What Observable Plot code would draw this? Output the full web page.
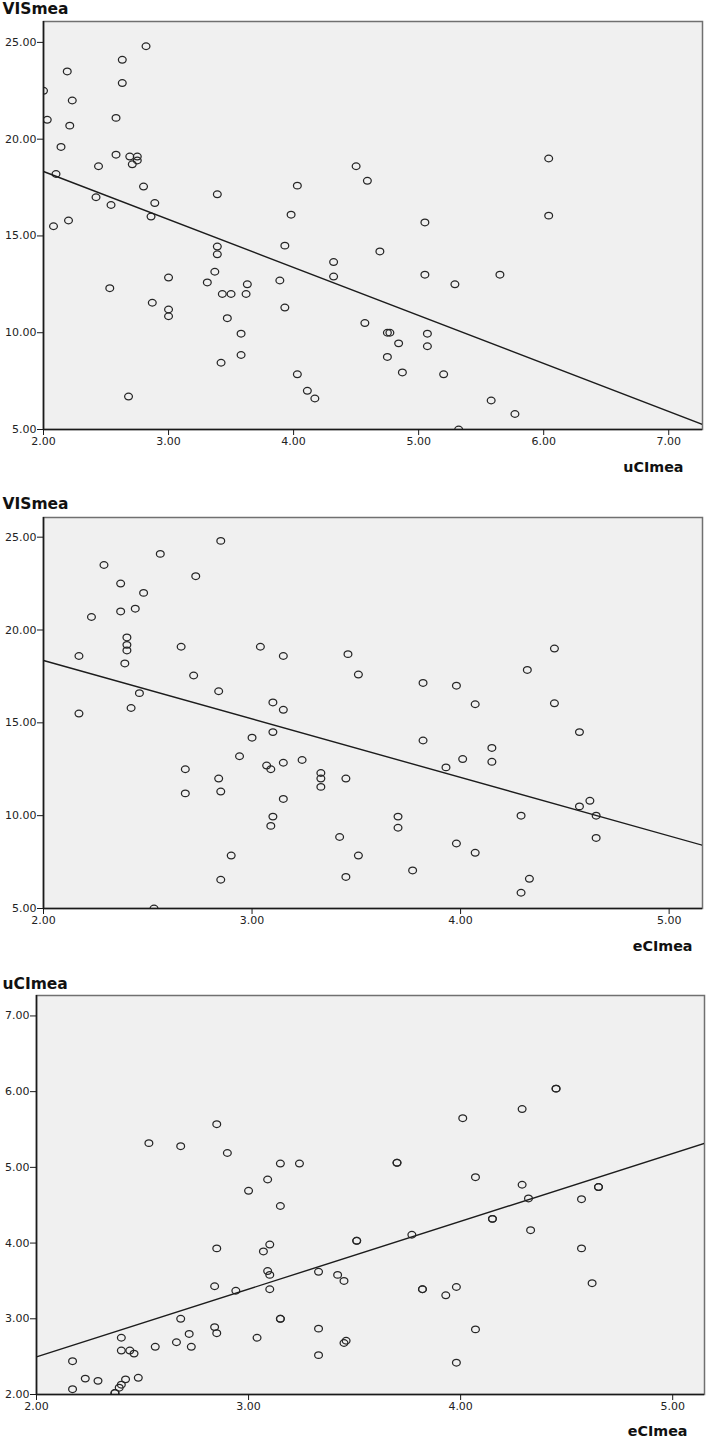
<!DOCTYPE html>
<html>
<head>
<meta charset="utf-8">
<script src="https://cdn.jsdelivr.net/npm/d3@7"></script>
<script src="https://cdn.jsdelivr.net/npm/@observablehq/plot@0.6"></script>
<style>
  html, body { margin: 0; padding: 0; background: #ffffff; }
  #charts svg { display: block; }
</style>
</head>
<body>
<div id="charts"></div>
<script>
// VISmea against uCImea (one point per participant)
const uciA = [2.00, 2.03, 2.19, 2.23, 2.21, 2.14, 2.10, 2.08, 2.20, 2.63, 2.63, 2.82, 2.58, 2.58, 2.69, 2.75, 2.75, 2.71, 2.44,
  2.80, 2.42, 2.54, 2.89, 2.86, 3.39, 4.03, 3.98, 4.50, 4.59, 5.05, 6.04, 6.04, 2.53, 2.87, 3.00, 3.00, 3.00, 2.68,
  3.39, 3.39, 3.37, 3.31, 3.43, 3.50, 3.62, 3.63, 3.47, 3.58, 3.58, 3.42, 3.93, 3.89, 3.93, 4.32, 4.32, 4.03, 4.11,
  4.17, 4.69, 5.05, 5.65, 5.29, 4.57, 4.75, 4.77, 5.07, 4.84, 5.07, 4.75, 4.87, 5.20, 5.58, 5.77, 5.32];
const visA = [22.5, 21.0, 23.5, 22.0, 20.7, 19.6, 18.2, 15.5, 15.8, 24.1, 22.9, 24.8, 21.1, 19.2, 19.1, 19.1, 18.9, 18.7, 18.6,
  17.55, 17.0, 16.6, 16.7, 16.0, 17.15, 17.6, 16.1, 18.6, 17.85, 15.7, 19.0, 16.05, 12.3, 11.55, 12.85, 11.2, 10.85, 6.7,
  14.45, 14.05, 13.15, 12.6, 12.0, 12.0, 12.0, 12.5, 10.75, 9.95, 8.85, 8.45, 14.5, 12.7, 11.3, 13.65, 12.9, 7.85, 7.0,
  6.6, 14.2, 13.0, 13.0, 12.5, 10.5, 10.0, 10.0, 9.95, 9.45, 9.3, 8.75, 7.95, 7.85, 6.5, 5.8, 5.0];

// VISmea against eCImea
const eciB = [2.17, 2.23, 2.29, 2.37, 2.48, 2.37, 2.44, 2.40, 2.40, 2.40, 2.39, 2.56, 2.73, 2.85, 2.66, 2.72, 2.46, 2.84,
  3.04, 3.15, 3.46, 3.51, 3.82, 3.98, 4.32, 4.45, 2.17, 2.42, 3.10, 3.15, 3.00, 3.10, 2.94, 2.68, 2.68, 2.84, 2.85,
  3.07, 3.09, 3.15, 3.24, 3.33, 3.33, 3.33, 3.45, 3.15, 3.10, 3.09, 3.42, 2.90, 2.85, 3.45, 3.51, 2.53, 4.07, 4.45,
  4.57, 3.82, 4.15, 4.15, 4.01, 3.93, 4.57, 4.62, 4.65, 4.29, 4.65, 3.70, 3.70, 3.98, 4.07, 3.77, 4.33, 4.29];
const visB = [18.6, 20.7, 23.5, 22.5, 22.0, 21.0, 21.15, 19.6, 19.2, 18.9, 18.2, 24.1, 22.9, 24.8, 19.1, 17.55, 16.6, 16.7,
  19.1, 18.6, 18.7, 17.6, 17.15, 17.0, 17.85, 19.0, 15.5, 15.8, 16.1, 15.7, 14.2, 14.5, 13.2, 12.5, 11.2, 12.0, 11.3,
  12.7, 12.5, 12.85, 13.0, 12.3, 12.0, 11.55, 12.0, 10.9, 9.95, 9.45, 8.85, 7.85, 6.55, 6.7, 7.85, 5.0, 16.0, 16.05,
  14.5, 14.05, 13.65, 12.9, 13.05, 12.6, 10.5, 10.8, 10.0, 10.0, 8.8, 9.95, 9.35, 8.5, 8.0, 7.05, 6.6, 5.85];

// uCImea against eCImea
const eciC = [2.53, 2.68, 2.85, 2.90, 3.15, 3.24, 3.09, 3.00, 4.45, 4.45, 4.29, 4.01, 3.70, 3.70, 4.07, 4.29, 4.65, 4.65,
  4.32, 4.57, 3.15, 2.85, 3.10, 3.07, 3.09, 3.10, 3.10, 2.84, 2.94, 3.33, 3.42, 3.45, 3.51, 3.51, 2.68, 3.15, 3.15,
  2.84, 2.85, 2.72, 2.66, 2.73, 2.56, 3.04, 3.33, 3.33, 3.45, 3.46, 2.40, 2.40, 2.44, 2.46, 2.17, 2.17, 2.23, 2.29,
  2.42, 2.48, 2.40, 2.39, 2.37, 2.37, 3.77, 4.15, 4.15, 4.33, 4.57, 4.62, 3.82, 3.82, 3.98, 3.93, 4.07, 3.98];
const uciC = [5.32, 5.28, 5.57, 5.19, 5.05, 5.05, 4.84, 4.69, 6.04, 6.04, 5.77, 5.65, 5.06, 5.06, 4.87, 4.77, 4.74, 4.74,
  4.59, 4.58, 4.49, 3.93, 3.98, 3.89, 3.63, 3.58, 3.39, 3.43, 3.37, 3.62, 3.58, 3.50, 4.03, 4.03, 3.00, 3.00, 3.00,
  2.89, 2.81, 2.80, 2.69, 2.63, 2.63, 2.75, 2.87, 2.52, 2.68, 2.71, 2.75, 2.58, 2.58, 2.54, 2.44, 2.07, 2.21, 2.18,
  2.20, 2.22, 2.13, 2.09, 2.02, 2.02, 4.11, 4.32, 4.32, 4.17, 3.93, 3.47, 3.39, 3.39, 3.42, 3.31, 2.86, 2.42];

// Linear fit lines: [intercept, slope]
const fitA = [23.29, -2.48];
const fitB = [24.66, -3.15];
const fitC = [0.707, 0.895];

// Tick values
const visTicks = [5, 10, 15, 20, 25];
const uciTicksX = [2, 3, 4, 5, 6, 7];
const eciTicks = [2, 3, 4, 5];
const uciTicksY = [2, 3, 4, 5, 6, 7];

// Open marker, slightly wider than tall
const ring = {
  draw(ctx, size) {
    const r = Math.sqrt(size / Math.PI);
    const rx = r * 1.08, ry = r * 0.93, k = 0.5523;
    ctx.moveTo(rx, 0);
    ctx.bezierCurveTo(rx, k * ry, k * rx, ry, 0, ry);
    ctx.bezierCurveTo(-k * rx, ry, -rx, k * ry, -rx, 0);
    ctx.bezierCurveTo(-rx, -k * ry, -k * rx, -ry, 0, -ry);
    ctx.bezierCurveTo(k * rx, -ry, rx, -k * ry, rx, 0);
    ctx.closePath();
  }
};

const fmt = d3.format(".2f");

function scatter(o) {
  const pts = o.xs.map((x, i) => ({x, y: o.ys[i]}));
  const line = o.xDomain.map(x => ({x, y: o.fit[0] + o.fit[1] * x}));
  return Plot.plot({
    width: 709,
    height: o.height,
    marginTop: o.mt,
    marginBottom: o.mb,
    marginLeft: o.ml,
    marginRight: o.mr,
    style: {fontFamily: "DejaVu Sans, Verdana, sans-serif", fontSize: "11px", color: "#1a1a1a", background: "#ffffff", overflow: "visible"},
    x: {domain: o.xDomain},
    y: {domain: o.yDomain},
    marks: [
      Plot.frame({fill: "#f0f0f0", stroke: "#707070", strokeWidth: 1.5}),
      Plot.dot(pts, {x: "x", y: "y", symbol: ring, r: 3.6, stroke: "#262626", strokeWidth: 1.25, fill: "none", clip: true}),
      Plot.line(line, {x: "x", y: "y", stroke: "#1c1c1c", strokeWidth: 1.4, clip: true}),
      Plot.ruleX([o.xDomain[0]], {stroke: "#1a1a1a", strokeWidth: 1.6}),
      Plot.ruleY([o.yDomain[0]], {stroke: "#1a1a1a", strokeWidth: 1.6}),
      Plot.axisX(o.xTicks, {tickFormat: fmt, tickSize: 6, tickPadding: 2, label: null, stroke: "#1a1a1a", fill: "#222"}),
      Plot.axisY(o.yTicks, {tickFormat: fmt, tickSize: 6, tickPadding: 1, label: null, stroke: "#1a1a1a", fill: "#222"}),
      Plot.text([o.yLabel], {frameAnchor: "top-left", textAnchor: "start", lineAnchor: "middle", dx: o.yLabelDx, dy: o.yLabelDy,
        fontSize: 15.5, fontWeight: "bold", fill: "#111"}),
      Plot.text([o.xLabel], {frameAnchor: "bottom-right", textAnchor: "end", lineAnchor: "middle", dx: o.xLabelDx, dy: o.xLabelDy,
        fontSize: 14.3, fontWeight: "bold", fill: "#111"})
    ]
  });
}

const root = document.getElementById("charts");

root.append(scatter({
  xs: uciA, ys: visA, fit: fitA,
  xDomain: [2, 7.27], yDomain: [5, 26.08], xTicks: uciTicksX, yTicks: visTicks,
  xLabel: "uCImea", yLabel: "VISmea",
  height: 480, mt: 21, mb: 51, ml: 43, mr: 7,
  yLabelDx: -41, yLabelDy: -12, xLabelDx: -19, xLabelDy: 38
}));

root.append(scatter({
  xs: eciB, ys: visB, fit: fitB,
  xDomain: [2, 5.16], yDomain: [5, 26.06], xTicks: eciTicks, yTicks: visTicks,
  xLabel: "eCImea", yLabel: "VISmea",
  height: 480, mt: 37, mb: 52, ml: 43, mr: 7,
  yLabelDx: -41, yLabelDy: -13, xLabelDx: -10, xLabelDy: 38
}));

root.append(scatter({
  xs: eciC, ys: uciC, fit: fitC,
  xDomain: [2, 5.15], yDomain: [2, 7.27], xTicks: eciTicks, yTicks: uciTicksY,
  xLabel: "eCImea", yLabel: "uCImea",
  height: 479, mt: 35, mb: 45, ml: 36, mr: 5,
  yLabelDx: -34, yLabelDy: -11, xLabelDx: -17, xLabelDy: 37
}));
</script>
</body>
</html>
